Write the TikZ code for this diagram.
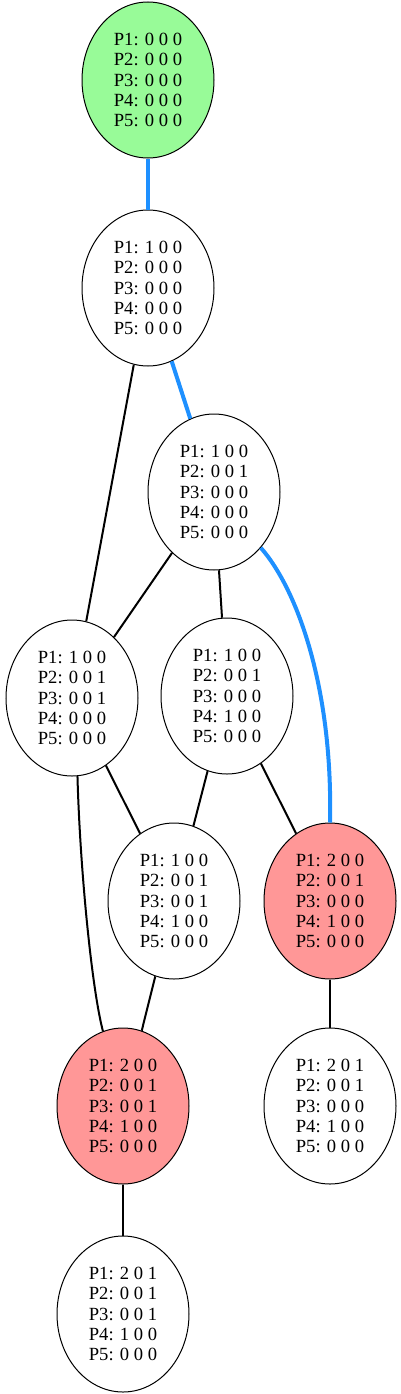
\documentclass[tikz,border=0pt]{standalone}
\usepackage{fontspec}
\setmainfont{Liberation Serif}
\usetikzlibrary{shapes.geometric}
\definecolor{startgreen}{HTML}{98FB98}
\definecolor{goalred}{HTML}{FF9797}
\definecolor{pathblue}{HTML}{1E90FF}
\tikzset{
  state/.style={ellipse, draw, line width=1pt, minimum width=132pt, minimum height=156pt,
    align=center, inner sep=0pt, font=\fontsize{18.6}{20.2}\selectfont},
  edge/.style={line width=2pt},
  solution/.style={pathblue, line width=4pt}
}
\begin{document}
\begin{tikzpicture}[x=1pt,y=-1pt]
\useasboundingbox (0,0) rectangle (401,1394);
% states
\node[state,fill=startgreen] (s0) at (148,80) {P1: 0 0 0\\P2: 0 0 0\\P3: 0 0 0\\P4: 0 0 0\\P5: 0 0 0};
\node[state] (s1) at (148,288) {P1: 1 0 0\\P2: 0 0 0\\P3: 0 0 0\\P4: 0 0 0\\P5: 0 0 0};
\node[state] (s2) at (214,492) {P1: 1 0 0\\P2: 0 0 1\\P3: 0 0 0\\P4: 0 0 0\\P5: 0 0 0};
\node[state] (s3) at (72,698) {P1: 1 0 0\\P2: 0 0 1\\P3: 0 0 1\\P4: 0 0 0\\P5: 0 0 0};
\node[state] (s4) at (227,696) {P1: 1 0 0\\P2: 0 0 1\\P3: 0 0 0\\P4: 1 0 0\\P5: 0 0 0};
\node[state] (s5) at (174,901) {P1: 1 0 0\\P2: 0 0 1\\P3: 0 0 1\\P4: 1 0 0\\P5: 0 0 0};
\node[state,fill=goalred] (s6) at (330,901) {P1: 2 0 0\\P2: 0 0 1\\P3: 0 0 0\\P4: 1 0 0\\P5: 0 0 0};
\node[state,fill=goalred] (s7) at (123,1106) {P1: 2 0 0\\P2: 0 0 1\\P3: 0 0 1\\P4: 1 0 0\\P5: 0 0 0};
\node[state] (s8) at (330,1106) {P1: 2 0 1\\P2: 0 0 1\\P3: 0 0 0\\P4: 1 0 0\\P5: 0 0 0};
\node[state] (s9) at (123,1314) {P1: 2 0 1\\P2: 0 0 1\\P3: 0 0 1\\P4: 1 0 0\\P5: 0 0 0};
% solution path
\draw[solution] (s0) -- (s1);
\draw[solution] (s1) -- (s2);
\draw[solution] (s2.-50) .. controls (298,590) and (333,690) .. (s6.north);
% other transitions
\draw[edge] (s1) -- (s3);
\draw[edge] (s2) -- (s3);
\draw[edge] (s2) -- (s4);
\draw[edge] (s3) -- (s5);
\draw[edge] (s4) -- (s5);
\draw[edge] (s4) -- (s6);
\draw[edge] (s3.-86) .. controls (80,870) and (92,990) .. (s7.105);
\draw[edge] (s5) -- (s7);
\draw[edge] (s6) -- (s8);
\draw[edge] (s7) -- (s9);
\end{tikzpicture}
\end{document}
